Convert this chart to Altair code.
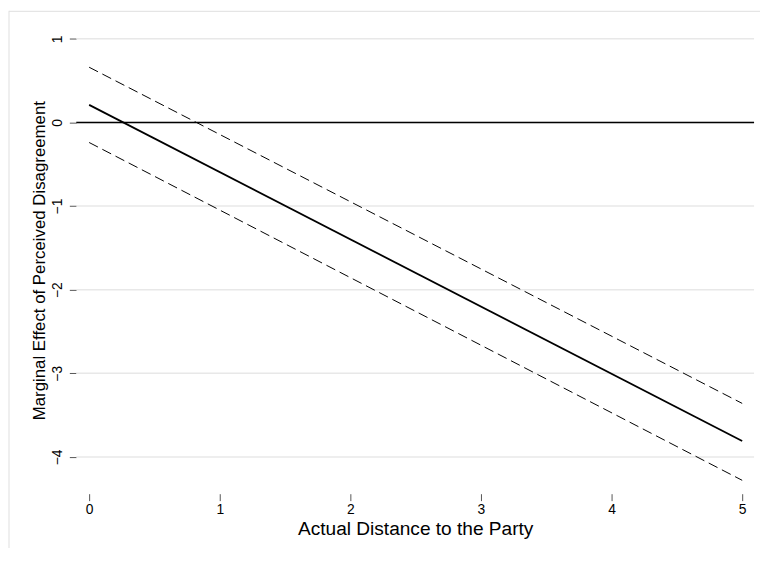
import altair as alt
import pandas as pd

distance = [0, 5]
effect = [0.21, -3.81]
upper = [0.66, -3.36]
lower = [-0.24, -4.28]

y_ticks = [-4, -3, -2, -1, 0, 1]
x_ticks = [0, 1, 2, 3, 4, 5]

rows = []
for d, e, u, l in zip(distance, effect, upper, lower):
    rows.append({"x": d, "y": e, "series": "effect"})
    rows.append({"x": d, "y": u, "series": "upper"})
    rows.append({"x": d, "y": l, "series": "lower"})
df = pd.DataFrame(rows)

FONT = "Liberation Sans"

xscale = alt.Scale(domain=[-0.0985, 5.091], nice=False, zero=False)
yscale = alt.Scale(domain=[-4.44, 1.145], nice=False, zero=False)

base = alt.Chart(df)

grid = alt.Chart(pd.DataFrame({"v": y_ticks})).mark_rule(color="#e8e8e8", strokeWidth=1.5).encode(
    y=alt.Y("v:Q", scale=yscale,
            axis=alt.Axis(values=y_ticks, format="d", grid=False, domain=False, tickSize=7,
                          tickColor="#555555", labelAngle=270, labelFontSize=14, labelFont=FONT,
                          labelColor="black", labelPadding=8, labelBaseline="alphabetic",
                          labelAlign="center",
                          title="Marginal Effect of Perceived Disagreement", titleFont=FONT,
                          titleFontSize=17, titleFontWeight="normal", titleColor="black",
                          titleX=-32, titleY=236, titleAngle=270, titleBaseline="alphabetic",
                          titleAlign="center")),
)

zero = alt.Chart(pd.DataFrame({"v": [0]})).mark_rule(color="black", strokeWidth=1.5).encode(
    y=alt.Y("v:Q", scale=yscale)
)

center = base.transform_filter(alt.datum.series == "effect").mark_line(color="black", strokeWidth=1.8).encode(
    x=alt.X("x:Q", scale=xscale,
            axis=alt.Axis(values=x_ticks, format="d", grid=False, domain=False, tickSize=7,
                          tickColor="#555555", labelFontSize=14, labelFont=FONT, labelColor="black",
                          labelPadding=2, labelBaseline="top",
                          title="Actual Distance to the Party", titleFont=FONT, titleFontSize=19.3,
                          titleFontWeight="normal", titleColor="black", titleBaseline="alphabetic",
                          titleX=342.5, titleY=41, titleAlign="center")),
    y=alt.Y("y:Q", scale=yscale),
)

bands = base.transform_filter(alt.datum.series != "effect").mark_line(
    color="black", strokeWidth=1, strokeDash=[10, 5]
).encode(
    x=alt.X("x:Q", scale=xscale),
    y=alt.Y("y:Q", scale=yscale),
    detail="series:N",
)

border_left = alt.Chart(pd.DataFrame({"a": [0]})).mark_rule(color="#e0e0e0", strokeWidth=1, clip=False).encode(
    x=alt.value(-68), y=alt.value(-16), y2=alt.value(560)
)
border_top = alt.Chart(pd.DataFrame({"a": [0]})).mark_rule(color="#e0e0e0", strokeWidth=1, clip=False).encode(
    x=alt.value(-68), x2=alt.value(700), y=alt.value(-15.5)
)

chart = alt.layer(grid, zero, bands, center, border_left, border_top).properties(
    width=685, height=472,
    autosize=alt.AutoSizeParams(type="none"),
    padding={"left": 69, "top": 16, "right": 6, "bottom": 52},
    background="white",
).configure_view(stroke=None)

chart.save("out.html", embed_options={"renderer": "svg", "actions": False})
